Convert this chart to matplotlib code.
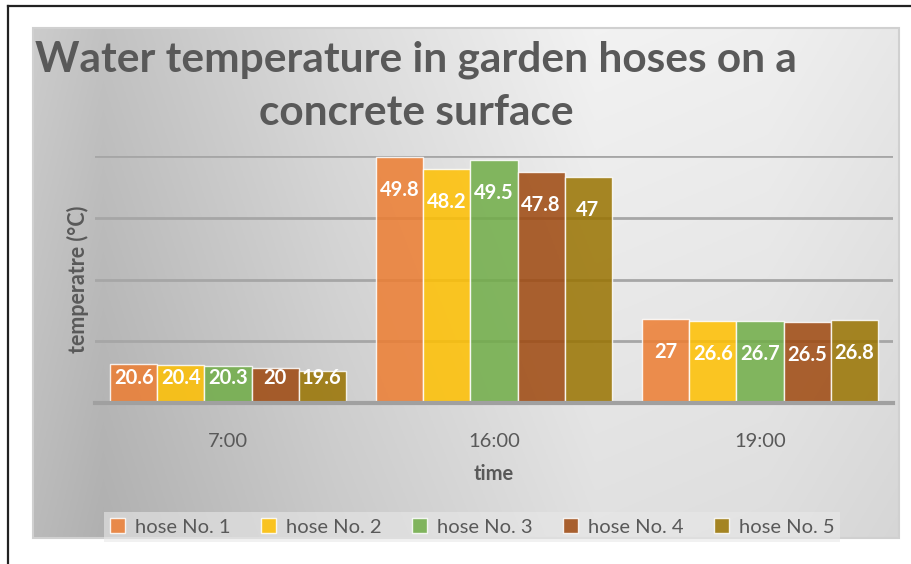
import numpy as np
import matplotlib
matplotlib.use('Agg')
import matplotlib.pyplot as plt
from matplotlib.lines import Line2D
from matplotlib.patches import Rectangle

plt.rcParams['font.family'] = ['Lato', 'DejaVu Sans']

# ---- data ----
times  = ['7:00', '16:00', '19:00']
hoses  = ['hose No. 1', 'hose No. 2', 'hose No. 3', 'hose No. 4', 'hose No. 5']
hose1  = [20.6, 49.8, 27.0]
hose2  = [20.4, 48.2, 26.6]
hose3  = [20.3, 49.5, 26.7]
hose4  = [20.0, 47.8, 26.5]
hose5  = [19.6, 47.0, 26.8]
colors = ['#ED7D31', '#FFC000', '#70AD47', '#9E480E', '#997300']

series = [hose1, hose2, hose3, hose4, hose5]
YMIN, YMAX = 15, 50
TXT = '#595959'

W, H = 911, 564
fig = plt.figure(figsize=(W / 100, H / 100), dpi=100)

def fx(px):
    return px / W

def fy(py):
    return 1 - py / H

# ---- outer black frame (only left/top visible) ----
fig.add_artist(Line2D([fx(7.5), fx(7.5)], [fy(5.5), 0], color='#222222', lw=1.6))
fig.add_artist(Line2D([fx(7.5), 1], [fy(5.5), fy(5.5)], color='#222222', lw=1.6))

# ---- gradient chart background ----
bx0, bx1, by0, by1 = 33, 899, 28, 538
bg = fig.add_axes([fx(bx0), fy(by1), fx(bx1 - bx0), (by1 - by0) / H], zorder=0)
gx = np.linspace(0, 1, 400)
gy = np.linspace(0, 1, 200)
lx = np.interp(gx, [0, 0.08, 0.35, 0.65, 0.85, 1.0], [0.80, 0.76, 0.86, 0.95, 0.94, 0.91])
img = lx[None, :] - 0.07 * gy[:, None]
bg.imshow(np.dstack([img, img, img]), aspect='auto', extent=(0, 1, 0, 1), origin='upper')
bg.set_xlim(0, 1)
bg.set_ylim(0, 1)
bg.axis('off')
fig.add_artist(Rectangle((fx(bx0), fy(by1)), fx(bx1 - bx0), (by1 - by0) / H,
                         transform=fig.transFigure, fill=False, ec='#d0d0d0', lw=1.5, zorder=1))

# ---- main axes ----
ax = fig.add_axes([fx(95), fy(403.3), fx(893 - 95), (403.3 - 156) / H], zorder=2)
ax.patch.set_alpha(0)
ax.set_xlim(-0.5, 2.5)
ax.set_ylim(YMIN, YMAX)
ax.set_yticks(np.linspace(YMIN, YMAX, 5))
ax.yaxis.grid(True, color='#a6a6a6', lw=2)
ax.set_axisbelow(True)
ax.tick_params(axis='y', left=False, labelleft=False)
ax.tick_params(axis='x', bottom=False, labelsize=14.5, labelcolor=TXT, pad=18)
for s in ['left', 'right', 'top']:
    ax.spines[s].set_visible(False)
ax.spines['bottom'].set_color('#a0a0a0')
ax.spines['bottom'].set_linewidth(3)

x = np.arange(len(times))
bw = 0.1767
for i, (vals, c, name) in enumerate(zip(series, colors, hoses)):
    xs = x + (i - 2) * bw
    ax.bar(xs, np.array(vals) - YMIN, bw, bottom=YMIN, color=c, alpha=0.85,
           edgecolor=(1, 1, 1, 0.6), lw=1, label=name, zorder=2)
    for xi, v in zip(xs, vals):
        if v - YMIN > 8:
            ax.annotate(f'{v:g}', (xi, v), xytext=(0, -33), textcoords='offset pixels',
                        ha='center', va='center', color='white', fontsize=14.5,
                        fontweight='bold', zorder=3)
        else:
            ax.annotate(f'{v:g}', (xi, YMIN), xytext=(0, 25), textcoords='offset pixels',
                        ha='center', va='center', color='white', fontsize=14.5,
                        fontweight='bold', zorder=3)

ax.set_xticks(x)
ax.set_xticklabels(times)
ax.set_xlabel('time', fontsize=14.5, fontweight='bold', color=TXT, labelpad=10)
ax.set_ylabel('temperatre (°C)', fontsize=15.5, fontweight='bold', color=TXT, labelpad=4)

# ---- title ----
fig.text(fx(416), fy(60), 'Water temperature in garden hoses on a', ha='center', va='center',
         fontsize=30.5, fontweight='bold', color=TXT)
fig.text(fx(416), fy(113), 'concrete surface', ha='center', va='center',
         fontsize=30.5, fontweight='bold', color=TXT)

# ---- legend ----
leg = fig.legend(loc='center', bbox_to_anchor=(fx(472), fy(527)), ncol=5, fontsize=14.5,
                 frameon=True, facecolor='#e8e8e8', framealpha=0.6, edgecolor='none',
                 fancybox=False, handlelength=0.75, handleheight=0.75, handletextpad=0.5,
                 columnspacing=1.5, borderpad=0.3)
for t in leg.get_texts():
    t.set_color(TXT)

fig.savefig('out.png', dpi=100)
